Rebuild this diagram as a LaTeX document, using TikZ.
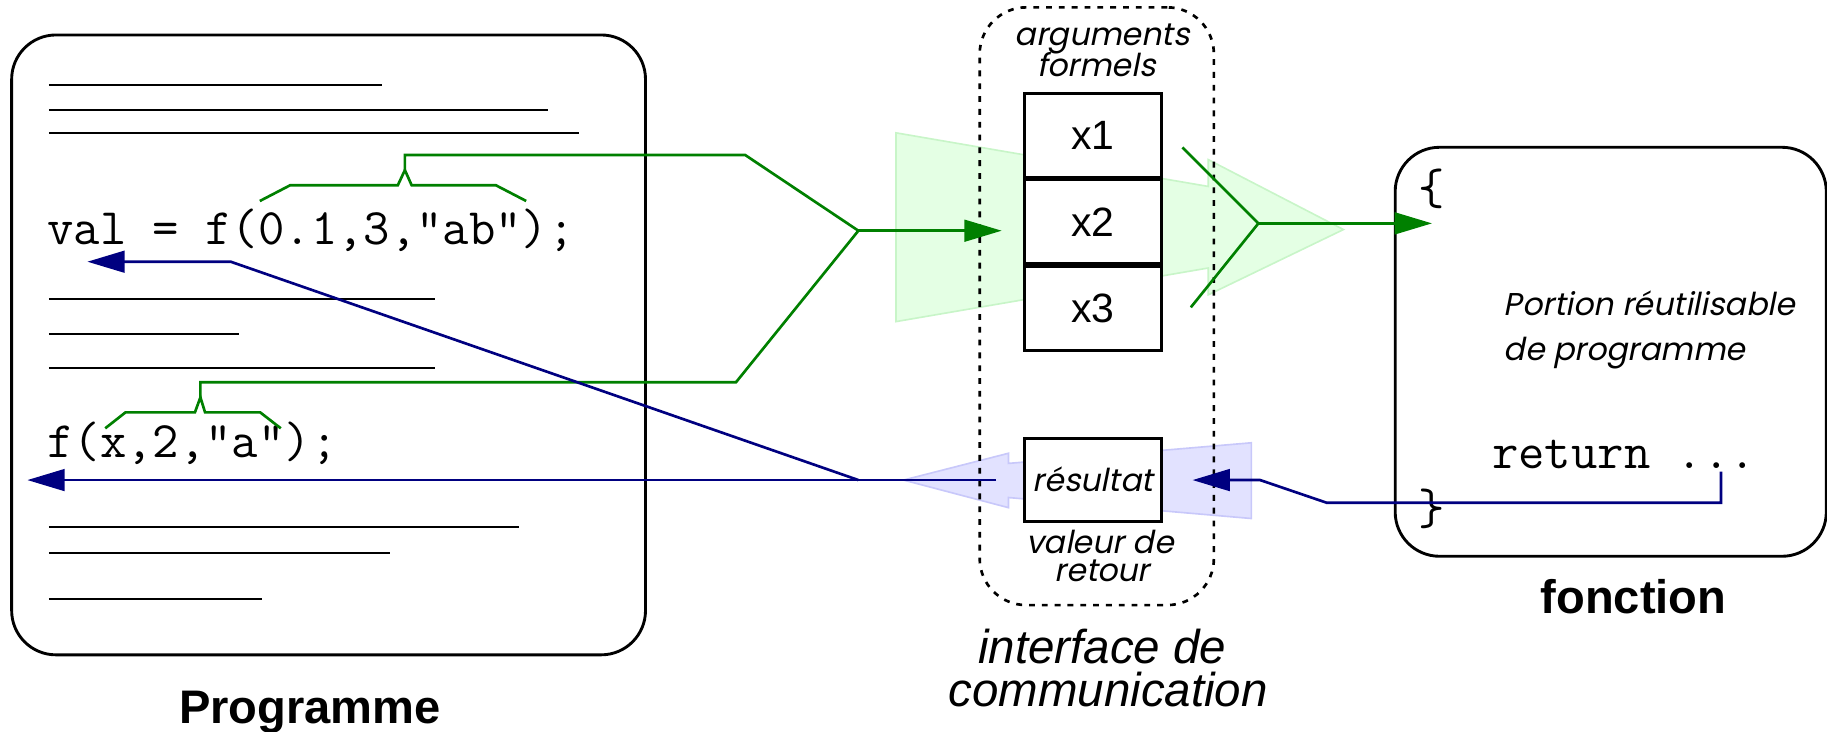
\documentclass[tikz,border=0pt]{standalone}
\usepackage{fontspec}
\setmainfont{Liberation Sans}
\newfontfamily\agfont[FakeSlant=0.2]{Poppins}
\usetikzlibrary{arrows.meta,positioning}

\definecolor{argvert}{RGB}{0,128,0}
\definecolor{retbleu}{RGB}{0,0,128}
\definecolor{fondvert}{RGB}{228,255,228}
\definecolor{bordvert}{RGB}{200,245,200}
\definecolor{fondbleu}{RGB}{226,226,255}
\definecolor{bordbleu}{RGB}{200,200,250}

\begin{document}
\begin{tikzpicture}[x=0.1mm, y=-0.1mm]
  \tikzset{
    boite/.style={draw, line width=0.7pt, rounded corners=3.8mm, inner sep=0pt},
    pointille/.style={draw, line width=0.65pt, dash pattern=on 0.5mm off 0.6mm, rounded corners=4mm, inner sep=0pt},
    case/.style={draw, fill=white, line width=0.7pt, minimum width=11.8mm, minimum height=7.2mm, inner sep=0pt, font=\fontsize{10}{12}\selectfont},
    code/.style={font=\ttfamily\fontsize{12.5}{14}\selectfont, inner sep=0pt},
    legende/.style={font=\agfont\fontsize{7.7}{9}\selectfont, inner sep=0pt},
    titre/.style={font=\bfseries\fontsize{11.5}{13}\selectfont, inner sep=0pt},
    inter/.style={font=\itshape\fontsize{11.6}{13}\selectfont, inner sep=0pt},
    ligne/.style={line width=0.5pt},
    vert/.style={draw=argvert, line width=0.65pt},
    bleu/.style={draw=retbleu, line width=0.65pt},
    fleche/.style={-{Triangle[length=3.2mm, width=1.86mm]}},
    fondv/.style={fill=fondvert, draw=bordvert, line width=0.4pt},
    fondb/.style={fill=fondbleu, draw=bordbleu, line width=0.4pt},
  }
  \useasboundingbox (0,0) rectangle (1568,628);

  % le programme appelant
  \node[boite, minimum width=54.4mm, minimum height=53.2mm] (prog) at (282,296) {};
  \foreach \y/\fin in {73/328, 94/470, 114/497, 257/373, 287/205, 316/373, 452/445, 475/335, 514/225}
    \draw[ligne] (42,\y) -- (\fin,\y);
  \node[code, anchor=base west] (appel1) at (40,210) {val = f(0.1,3,"ab");};
  \node[code, anchor=base west] (appel2) at (40,393) {f(x,2,"a");};
  \node[titre, anchor=base] (nomprog) at (266,620.5) {Programme};

  % la fonction
  \node[boite, minimum width=37mm, minimum height=35.1mm] (fonc) at (1382.4,301.9) {};
  \node[code] (acco) at (1229,162) {\{};
  \node[code] (accf) at (1229,437) {\}};
  \node[legende, anchor=base west] (port1) at (1290,270.4) {Portion réutilisable};
  \node[legende, anchor=base west] (port2) at (1290,309) {de programme};
  \node[code, anchor=base west] (ret) at (1280,402) {return ...};
  \node[titre, anchor=base] (nomfonc) at (1402,526.5) {fonction};

  % grosses fleches claires
  \filldraw[fondv] (769,114) -- (1037,160) -- (1037,137) -- (1153,197) -- (1037,253) -- (1037,230) -- (769,276) -- cycle;
  \filldraw[fondb] (1074,380) -- (865.5,397.7) -- (865.5,389) -- (775.4,412) -- (865.5,435.7) -- (865.5,427) -- (1074,445) -- cycle;

  % l'interface
  \node[pointille, minimum width=20.1mm, minimum height=51.3mm] (iface) at (941.3,262.8) {};
  \node[case] (x1) at (938,116) {x1};
  \node[case, below=0pt of x1] (x2) {x2};
  \node[case, below=0pt of x2] (x3) {x3};
  \node[case, minimum height=7.1mm, font=\agfont\fontsize{7.7}{9}\selectfont] (res) at (938,411.7) {résultat};
  \node[legende, anchor=base] (arg1) at (946,39.2) {arguments};
  \node[legende, anchor=base] (arg2) at (941,65.8) {formels};
  \node[legende, anchor=base] (val1) at (944,475) {valeur de};
  \node[legende, anchor=base] (val2) at (946,499.3) {retour};
  \node[inter, anchor=base] (int1) at (946,569.4) {interface de};
  \node[inter, anchor=base] (int2) at (951,606.6) {communication};

  % passage des arguments
  \coordinate (ac1) at (347.5,146);
  \coordinate (ac2) at (172,341);
  \coordinate (jonc) at (736.7,198);
  \coordinate (entree) at (859.7,198);
  \coordinate (jonc2) at (1080,191.7);
  \draw[vert] (223,172.5) -- (249,159) -- (341.4,159) -- (ac1) -- (353.3,159) -- (425.6,159) -- (451.6,172.5);
  \draw[vert] (90.3,367.6) -- (107.7,353.9) -- (167.3,353.9) -- (ac2) -- (176,353.9) -- (223.3,353.9) -- (241,367.6);
  \draw[vert] (ac1) -- (347.5,133) -- (639.5,133) -- (jonc);
  \draw[vert] (ac2) -- (172,328) -- (631.7,328) -- (jonc);
  \draw[vert, fleche] (jonc) -- (entree);
  \draw[vert] (1014.8,126.5) -- (jonc2) -- (1022,263.8);
  \draw[vert, fleche] (jonc2) -- (jonc2 -| acco);

  % retour du resultat
  \coordinate (depart) at (855,412);
  \coordinate (coude) at (736.7,412);
  \coordinate (sortie1) at (75,224.6);
  \coordinate (sortie2) at (23.5,412);
  \coordinate (point) at (1477,404.8);
  \draw[bleu, fleche] (depart) -- (sortie2);
  \draw[bleu, fleche] (coude) -- (198,224.6) -- (sortie1);
  \draw[bleu, fleche] (point) -- (1477,431.5) -- (1138.7,431.5) -- (1081.5,412) -- (1023.5,412);
\end{tikzpicture}
\end{document}
